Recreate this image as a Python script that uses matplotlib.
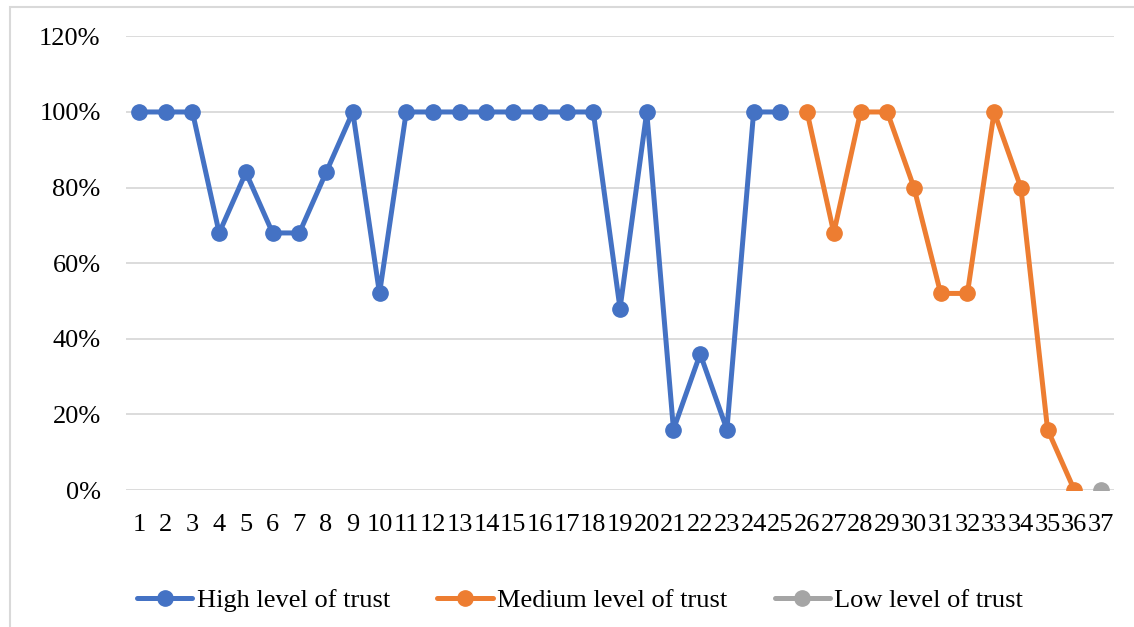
import matplotlib
matplotlib.use("Agg")
import matplotlib.pyplot as plt
import matplotlib.patches as patches
from matplotlib.ticker import FuncFormatter, FixedLocator

# Respondent numbers and trust scores (%)
high_x = list(range(1, 26))
high_y = [100, 100, 100, 68, 84, 68, 68, 84, 100, 52,
          100, 100, 100, 100, 100, 100, 100, 100, 48, 100,
          16, 36, 16, 100, 100]
medium_x = list(range(26, 37))
medium_y = [100, 68, 100, 100, 80, 52, 52, 100, 80, 16, 0]
low_x = [37]
low_y = [0]

series_names = ["High level of trust", "Medium level of trust", "Low level of trust"]
colors = ["#4472C4", "#ED7D31", "#A5A5A5"]
y_ticks = [0, 20, 40, 60, 80, 100, 120]
categories = list(range(1, 38))

plt.rcParams["font.family"] = ["Liberation Serif", "DejaVu Serif"]

fig = plt.figure(figsize=(11.34, 6.27), dpi=100)
ax = fig.add_axes([0.1108, 0.2185, 0.9827 - 0.1108, 0.942 - 0.2185])

# light frame around the chart
frame = patches.Rectangle((10 / 1134, -0.02), 1.2, 1 - 7 / 627 + 0.02,
                          transform=fig.transFigure, fill=False,
                          edgecolor="#d9d9d9", linewidth=1.5)
fig.patches.append(frame)

for xs, ys, name, c in zip([high_x, medium_x, low_x], [high_y, medium_y, low_y],
                           series_names, colors):
    ax.plot(xs, ys, color=c, linewidth=3.6, marker="o", markersize=11,
            label=name, solid_capstyle="round", zorder=3)

ax.set_xlim(0.5, 37.5)
ax.set_ylim(0, 120)
ax.yaxis.set_major_locator(FixedLocator(y_ticks))
ax.yaxis.set_major_formatter(FuncFormatter(lambda v, p: f"{v:.0f}%"))
ax.set_xticks(categories)
ax.set_xticklabels([str(c) for c in categories])
ax.grid(axis="y", color="#d9d9d9", linewidth=1.3, zorder=0)
ax.set_axisbelow(True)
for s in ax.spines.values():
    s.set_visible(False)
ax.tick_params(axis="both", length=0, labelsize=19)
ax.tick_params(axis="y", pad=18)
ax.tick_params(axis="x", pad=17)

fig.legend(loc="center", bbox_to_anchor=(0.5115, 0.043), ncol=3, frameon=False,
           fontsize=19, handlelength=2.1, handletextpad=0.16, columnspacing=1.8)

fig.savefig("out.png", dpi=100)
